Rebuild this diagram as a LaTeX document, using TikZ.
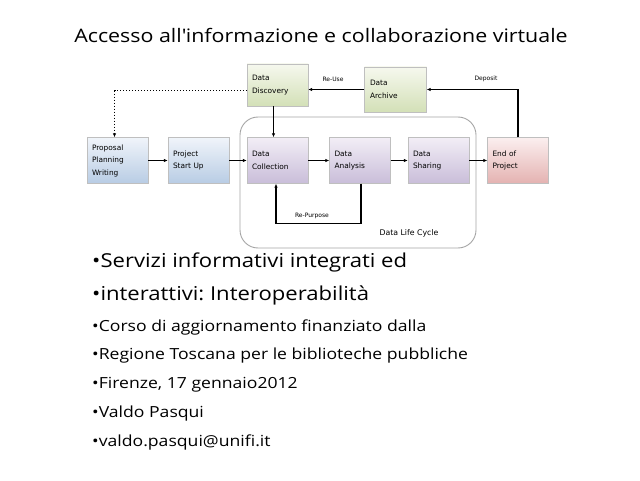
\documentclass[tikz,border=0pt]{standalone}
\usepackage{fontspec}
\setmainfont{Open Sans}[FakeStretch=1.15]
\newfontfamily\boxfont{DejaVu Sans}
\usetikzlibrary{arrows.meta}
\frenchspacing

\definecolor{blueTop}{HTML}{F0F4FA}
\definecolor{blueBot}{HTML}{B8CCE4}
\definecolor{violetTop}{HTML}{F2EEF6}
\definecolor{violetBot}{HTML}{C9BDD9}
\definecolor{greenTop}{HTML}{F6F8EE}
\definecolor{greenBot}{HTML}{D3E0B7}
\definecolor{redTop}{HTML}{FBEFEF}
\definecolor{redBot}{HTML}{E4B2B1}

\tikzset{
    stepbox/.style={draw=black!25, minimum width=61pt, minimum height=46pt,
        text width=51pt, inner sep=5pt, align=left,
        font=\boxfont\fontsize{7.4}{12.5}\selectfont},
    bluebox/.style={stepbox, top color=blueTop, bottom color=blueBot},
    violetbox/.style={stepbox, top color=violetTop, bottom color=violetBot},
    greenbox/.style={stepbox, top color=greenTop, bottom color=greenBot},
    redbox/.style={stepbox, top color=redTop, bottom color=redBot},
    flow/.style={-{Latex[length=4pt,width=3.5pt]}, line width=1.3pt},
    tag/.style={font=\boxfont\fontsize{6}{7}\selectfont},
    bullet/.style={anchor=base west, inner sep=0pt}
}

\begin{document}
\begin{tikzpicture}[x=1pt,y=1pt]
    \useasboundingbox (0,0) rectangle (640,480);
    \fill[white] (0,0) rectangle (640,480);

    % title
    \node[anchor=base, inner sep=0pt, font=\fontsize{18.6}{20}\selectfont] (title) at (321,437)
        {Accesso all\textquotesingle informazione e collaborazione virtuale};

    % life cycle frame
    \node[draw=black!35, line width=0.9pt, rounded corners=18pt,
          minimum width=236pt, minimum height=131pt] (cycle) at (358,297.5) {};
    \node[tag, font=\boxfont\fontsize{7.8}{9}\selectfont] (cyclename) at (409,247) {Data Life Cycle};

    % steps
    \node[bluebox] (prop) at (117.5,319.5) {Proposal\\Planning\\Writing};
    \node[bluebox] (start) at (198.5,319.5) {Project\\Start Up};
    \node[violetbox] (coll) at (277.5,319.5) {Data\\Collection};
    \node[violetbox] (anal) at (360,319.5) {Data\\Analysis};
    \node[violetbox] (shar) at (438.5,319.5) {Data\\Sharing};
    \node[redbox] (endp) at (518,319.5) {End of\\Project};
    \node[greenbox, minimum height=42pt] (disc) at (277.5,395) {Data\\Discovery};
    \node[greenbox, minimum height=45pt, minimum width=62pt] (arch) at (395.5,390.5) {Data\\Archive};

    % connectors
    \draw[flow] (prop) -- (start);
    \draw[flow] (start) -- (coll);
    \draw[flow] (coll) -- (anal);
    \draw[flow] (anal) -- (shar);
    \draw[flow] (shar) -- (endp);
    \draw[flow] ([xshift=-4pt]disc.south) -- ([xshift=-4pt]coll.north);
    \draw[flow, line width=1.6pt] (arch.west) -- (arch.west -| disc.east);
    \draw[flow] (endp.north) |- (arch.east);
    \draw[-{Latex[length=4pt,width=3.5pt]}, line width=1pt, dotted]
        ([yshift=-6pt]disc.west) -| ([xshift=-3pt]prop.north);
    \draw[flow] ([xshift=1pt]anal.south) -- ++(0,-40) -| ([xshift=-1.5pt]coll.south);

    \node[tag] (reuse) at (333,401) {Re-Use};
    \node[tag] (deposit) at (486,401) {Deposit};
    \node[tag] (repurpose) at (312,264) {Re-Purpose};

    % bullet list
    \node[bullet, font=\fontsize{19.2}{22}\selectfont] (b1) at (92,213) {•Servizi informativi integrati ed};
    \node[bullet, font=\fontsize{19.2}{22}\selectfont] (b2) at (92,180) {•interattivi: Interoperabilità};
    \node[bullet, font=\fontsize{15.3}{18}\selectfont] (b3) at (92,149) {•Corso di aggiornamento finanziato dalla};
    \node[bullet, font=\fontsize{15.3}{18}\selectfont] (b4) at (92,121) {•Regione Toscana per le biblioteche pubbliche};
    \node[bullet, font=\fontsize{15.3}{18}\selectfont] (b5) at (92,92) {•Firenze, 17 gennaio2012};
    \node[bullet, font=\fontsize{15.3}{18}\selectfont] (b6) at (92,63) {•Valdo Pasqui};
    \node[bullet, font=\fontsize{15.3}{18}\selectfont] (b7) at (92,34) {•valdo.pasqui@unifi.it};
\end{tikzpicture}
\end{document}
